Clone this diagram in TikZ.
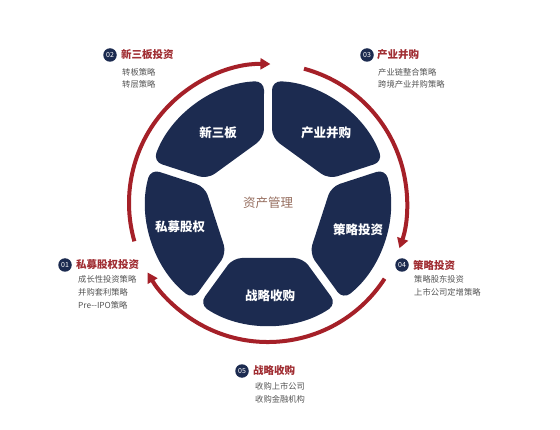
\documentclass[tikz,border=0pt]{standalone}
\usepackage{fontspec}
\setmainfont{Noto Sans CJK SC}
\usetikzlibrary{arrows.meta}
\definecolor{navy}{RGB}{28,43,80}
\definecolor{ringred}{RGB}{165,32,40}
\definecolor{titlered}{RGB}{160,45,50}
\definecolor{subgray}{RGB}{85,85,85}
\definecolor{centerbrown}{RGB}{150,110,95}
\tikzset{
  segfill/.style={fill=navy, rounded corners=9pt},
  ring/.style={draw=ringred, line width=4pt, -{Triangle[length=10pt,width=11pt]}},
  badge/.style={circle, fill=navy, text=white, inner sep=0pt, minimum size=13.5pt, font=\fontsize{7}{8}\selectfont},
  title/.style={anchor=west, inner sep=0pt, text=titlered, font=\fontsize{10.5}{12}\selectfont\bfseries},
  sub/.style={anchor=west, inner sep=0pt, text=subgray, font=\fontsize{8.3}{10}\selectfont},
  seglabel/.style={inner sep=0pt, text=white, font=\fontsize{12.5}{14}\selectfont\bfseries},
}
\begin{document}
\begin{tikzpicture}[x=1pt,y=1pt]
\useasboundingbox (0,0) rectangle (560,429);
\fill[white] (0,0) rectangle (560,429);

% segments
\foreach \a in {126,54,-18,270,198}{
  \fill[segfill, shift={(268,226)}, rotate=\a]
    (55,-35) -- (55,35) -- (100.99,68.43)
    arc[start angle=34.12, end angle=-34.12, radius=122] -- cycle;
}

% red ring arrows
\draw[ring, shift={(268,226)}] (196:139) arc[start angle=196, end angle=89, radius=139];
\draw[ring, shift={(268,226)}] (75:139) arc[start angle=75, end angle=-19, radius=139];
\draw[ring, shift={(268,226)}] (-33:139) arc[start angle=-33, end angle=-150, radius=139];

% segment labels
\node[seglabel] (s1) at (218,296) {新三板};
\node[seglabel] (s2) at (326,296) {产业并购};
\node[seglabel] (s3) at (358,199) {策略投资};
\node[seglabel] (s4) at (270,133) {战略收购};
\node[seglabel] (s5) at (180,202) {私募股权};
\node[inner sep=0pt, text=centerbrown, font=\fontsize{12.5}{14}\selectfont] (ctr) at (268,226) {资产管理};

% 02
\node[badge] (b2) at (110,374) {02};
\node[title] (t2) at (121,374) {新三板投资};
\node[sub] (u21) at (122,357) {转板策略};
\node[sub] (u22) at (122,345) {转层策略};

% 03
\node[badge] (b3) at (367,374) {03};
\node[title] (t3) at (377,374) {产业并购};
\node[sub] (u31) at (378,357) {产业链整合策略};
\node[sub] (u32) at (378,345) {跨境产业并购策略};

% 01
\node[badge] (b1) at (65,164) {01};
\node[title] (t1) at (76,164) {私募股权投资};
\node[sub] (u11) at (78,150) {成长性投资策略};
\node[sub] (u12) at (78,137) {并购套利策略};
\node[sub] (u13) at (78,124) {Pre{-}{-}IPO策略};

% 04
\node[badge] (b4) at (402,164) {04};
\node[title] (t4) at (413,164) {策略投资};
\node[sub] (u41) at (414,150) {策略股东投资};
\node[sub] (u42) at (414,137) {上市公司定增策略};

% 05
\node[badge] (b5) at (242,58) {05};
\node[title] (t5) at (253,58) {战略收购};
\node[sub] (u51) at (255,43) {收购上市公司};
\node[sub] (u52) at (255,30) {收购金融机构};
\end{tikzpicture}
\end{document}
